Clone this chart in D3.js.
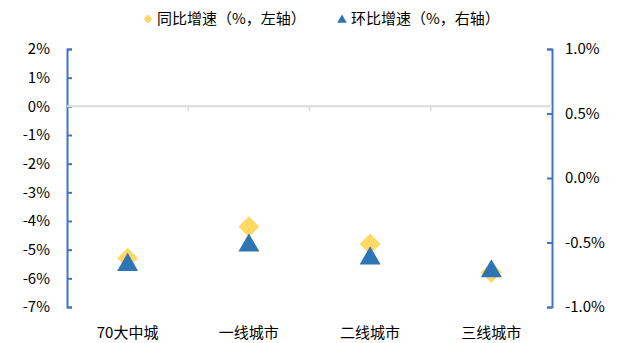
<!DOCTYPE html>
<html>
<head>
<meta charset="utf-8">
<script src="https://cdn.jsdelivr.net/npm/d3@7/dist/d3.min.js"></script>
<style>
  body { margin: 0; background: #fff; }
  text { font-family: "Noto Sans CJK SC", "Noto Sans", sans-serif; fill: #000; }
</style>
</head>
<body>
<div id="chart"></div>
<script>
var categories = ["70大中城", "一线城市", "二线城市", "三线城市"];
var yoyValues = [-5.3, -4.2, -4.8, -5.8];     // 同比增速, left axis
var momValues = [-0.65, -0.5, -0.6, -0.7];    // 环比增速, right axis
var leftTicks = [2, 1, 0, -1, -2, -3, -4, -5, -6, -7];
var rightTicks = [1.0, 0.5, 0.0, -0.5, -1.0];
var legendLabels = ["同比增速（%，左轴）", "环比增速（%，右轴）"];

var width = 624, height = 343;
var margin = {left: 67, right: 72, top: 49, bottom: 36};
var axisColor = "#4472C4";

var svg = d3.select("#chart").append("svg")
    .attr("width", width)
    .attr("height", height);

var x = d3.scaleBand()
    .domain(categories)
    .range([margin.left, width - margin.right]);

var yLeft = d3.scaleLinear()
    .domain([-7, 2])
    .range([height - margin.bottom, margin.top]);

var yRight = d3.scaleLinear()
    .domain([-1, 1])
    .range([height - margin.bottom, margin.top]);

// left axis
var gl = svg.append("g")
    .attr("transform", "translate(" + margin.left + ",0)")
    .call(d3.axisRight(yLeft).tickValues(leftTicks).tickSize(5)
        .tickFormat(function(d) { return d + "%"; }));
gl.select(".domain").attr("stroke", axisColor).attr("stroke-width", 2);
gl.selectAll(".tick line").attr("stroke", axisColor).attr("stroke-width", 2);
gl.selectAll(".tick text")
    .attr("x", -17)
    .attr("text-anchor", "end")
    .style("font-size", "15px");

// right axis
var gr = svg.append("g")
    .attr("transform", "translate(" + (width - margin.right) + ",0)")
    .call(d3.axisLeft(yRight).tickValues(rightTicks).tickSize(5)
        .tickFormat(function(d) { return d.toFixed(1) + "%"; }));
gr.select(".domain").attr("stroke", axisColor).attr("stroke-width", 2);
gr.selectAll(".tick line").attr("stroke", axisColor).attr("stroke-width", 2);
gr.selectAll(".tick text")
    .attr("x", 13)
    .attr("text-anchor", "start")
    .style("font-size", "15px");

// category axis crossing at 0 on the left scale
var y0 = yLeft(0);
svg.append("line")
    .attr("x1", margin.left).attr("x2", width - margin.right)
    .attr("y1", y0).attr("y2", y0)
    .attr("stroke", "#d9d9d9").attr("stroke-width", 2);

var bounds = categories.slice(1).map(function(c) { return x(c); });
svg.selectAll(".cattick")
    .data(bounds)
    .enter().append("line")
    .attr("class", "cattick")
    .attr("x1", function(d) { return d; }).attr("x2", function(d) { return d; })
    .attr("y1", y0).attr("y2", y0 + 5)
    .attr("stroke", "#d9d9d9").attr("stroke-width", 1.5);

svg.selectAll(".catlabel")
    .data(categories)
    .enter().append("text")
    .attr("class", "catlabel")
    .attr("x", function(d) { return x(d) + x.bandwidth() / 2; })
    .attr("y", 338)
    .attr("text-anchor", "middle")
    .style("font-size", "15px")
    .text(function(d) { return d; });

var diamond = d3.symbol().type(d3.symbolSquare).size(220);
var triSize = 190;
var triangle = d3.symbol().type(d3.symbolTriangle).size(triSize);
// d3 centres the triangle on its centroid; the reference centres the box
var triShift = Math.sqrt(triSize / (Math.sqrt(3) * 3)) / 2;

// yoy diamonds
svg.selectAll(".yoy")
    .data(yoyValues)
    .enter().append("path")
    .attr("class", "yoy")
    .attr("d", diamond)
    .attr("transform", function(d, i) {
        return "translate(" + (x(categories[i]) + x.bandwidth() / 2) + "," + yLeft(d) + ") rotate(45)";
    })
    .attr("fill", "#FFD966");

// mom triangles
svg.selectAll(".mom")
    .data(momValues)
    .enter().append("path")
    .attr("class", "mom")
    .attr("d", triangle)
    .attr("transform", function(d, i) {
        return "translate(" + (x(categories[i]) + x.bandwidth() / 2) + "," + (yRight(d) + triShift) + ")";
    })
    .attr("fill", "#2E75B6");

// legend
var legend = svg.append("g");
var lx = [148, 342];
legend.append("path")
    .attr("d", d3.symbol().type(d3.symbolSquare).size(40))
    .attr("transform", "translate(" + lx[0] + ",19) rotate(45)")
    .attr("fill", "#FFD966");
legend.append("path")
    .attr("d", d3.symbol().type(d3.symbolTriangle).size(40))
    .attr("transform", "translate(" + lx[1] + ",20)")
    .attr("fill", "#2E75B6");
legend.selectAll("text")
    .data(legendLabels)
    .enter().append("text")
    .attr("x", function(d, i) { return lx[i] + 9; })
    .attr("y", 24)
    .style("font-size", "15px")
    .text(function(d) { return d; });
</script>
</body>
</html>
